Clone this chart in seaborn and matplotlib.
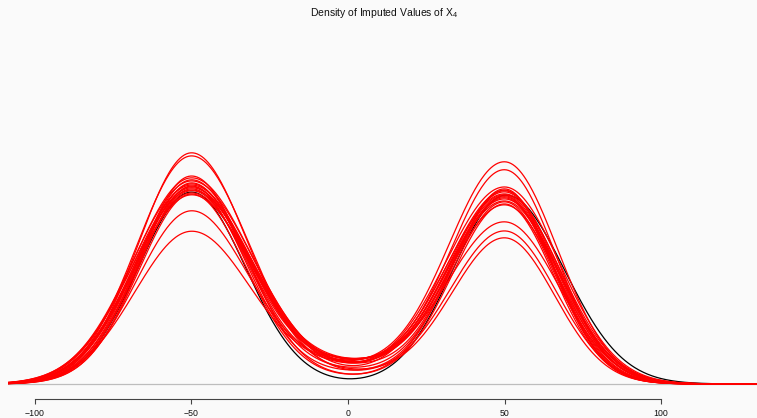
import numpy as np
import pandas as pd
import matplotlib
matplotlib.use("Agg")
import matplotlib.pyplot as plt
import seaborn as sns

# Peak densities of the observed (black) curve for the two modes
observed_left_peak = 0.01271
observed_right_peak = 0.01251

# Peak densities of the imputed (red) curves, left mode and right mode
imputed_left_peaks = [0.0153, 0.0151, 0.0101, 0.01145, 0.01377, 0.01364, 0.0135,
                      0.01344, 0.0133, 0.01324, 0.01317, 0.0131, 0.01304, 0.01298,
                      0.01291, 0.01284, 0.01278, 0.01264, 0.01258, 0.01251]
imputed_right_peaks = [0.00967, 0.01013, 0.0147, 0.01417, 0.01192, 0.01211, 0.01231,
                       0.01258, 0.01245, 0.01271, 0.01225, 0.01291, 0.01251, 0.01278,
                       0.01205, 0.01304, 0.01238, 0.01185, 0.01284, 0.01072]
# Relative width of each imputed curve's modes
imputed_spreads = [0.97, 1.00, 1.03, 0.99, 0.95, 1.05, 0.98, 1.07, 0.96, 1.02,
                   1.06, 0.94, 1.01, 1.04, 0.97, 1.08, 0.99, 1.03, 0.95, 1.05]
# Extra density of imputed values falling between the two modes
imputed_mid_levels = [0.0006, 0.0004, 0.0009, 0.0011, 0.0003, 0.0007, 0.0012,
                      0.0005, 0.0010, 0.0008, 0.0004, 0.0006, 0.0011, 0.0009,
                      0.0007, 0.0005, 0.0012, 0.0008, 0.0003, 0.0010]

mode_centers = [-50.0, 50.0]
tick_values = [-100, -50, 0, 50, 100]
title_text = r"Density of Imputed Values of $\mathrm{X}_4$"


def half_normal_pair(x, center, peak, sd_lo, sd_hi):
    sd = np.where(x < center, sd_lo, sd_hi)
    return peak * np.exp(-0.5 * ((x - center) / sd) ** 2)


grid = np.linspace(-110, 133, 700)
frames = []

obs = (half_normal_pair(grid, mode_centers[0], observed_left_peak, 17.0, 17.3)
       + half_normal_pair(grid, mode_centers[1] + 0.5, observed_right_peak, 17.0, 18.6))
frames.append(pd.DataFrame({"x": grid, "density": obs, "curve": "observed"}))

for i, (lp, rp, s, mid) in enumerate(zip(imputed_left_peaks, imputed_right_peaks,
                                         imputed_spreads, imputed_mid_levels)):
    dens = (half_normal_pair(grid, mode_centers[0], lp, 17.5 * s, 18.5 * s)
            + half_normal_pair(grid, mode_centers[1], rp, 17.5 * s, 16.5 * s)
            + mid * np.exp(-0.5 * (grid / 18.0) ** 2))
    frames.append(pd.DataFrame({"x": grid, "density": dens, "curve": f"imp{i + 1}"}))

df = pd.concat(frames, ignore_index=True)
palette = {name: ("black" if name == "observed" else "#ff0000")
           for name in df["curve"].unique()}

sns.set_theme(style="white")
plt.rcParams["font.family"] = ["Liberation Sans", "DejaVu Sans"]
plt.rcParams["mathtext.fontset"] = "custom"
plt.rcParams["mathtext.rm"] = "Liberation Sans"
plt.rcParams["mathtext.it"] = "Liberation Sans:italic"

W, H = 757, 418
fig = plt.figure(figsize=(W / 100, H / 100), dpi=100, facecolor="#fafafa")
ax = fig.add_axes([8 / W, (H - 386) / H, 752 / W, (386 - 30) / H])
ax.set_facecolor("#fafafa")

px = 0.0153 / 231.0
ax.axhline(0, color="#bdbdbd", lw=0.9, zorder=1)
sns.lineplot(data=df, x="x", y="density", hue="curve", palette=palette,
             estimator=None, sort=False, legend=False, lw=0.9, ax=ax, zorder=3)

ax.set_xlim((8 - 348) / 3.13, (760 - 348) / 3.13)
ax.set_ylim(-2 * px, 354 * px)

for side in ["left", "right", "top"]:
    ax.spines[side].set_visible(False)
ax.spines["bottom"].set_position(("outward", 9.4))
ax.spines["bottom"].set_bounds(tick_values[0], tick_values[-1])
ax.spines["bottom"].set_color("#444444")
ax.spines["bottom"].set_linewidth(0.8)
ax.set_yticks([])
ax.set_xticks(tick_values)
ax.set_xticklabels([f"{v}".replace("-", "\u2212") for v in tick_values])
ax.tick_params(axis="x", direction="out", length=3.6, width=0.8, color="#444444",
               pad=3.5, labelsize=6.3, labelcolor="#111111", bottom=True)
ax.set_xlabel("")
ax.set_ylabel("")

fig.text(384 / W, 1 - 13 / H, title_text, ha="center", va="center", fontsize=7.5,
         color="#111111")

fig.savefig("out.png", dpi=100, facecolor="#fafafa")
